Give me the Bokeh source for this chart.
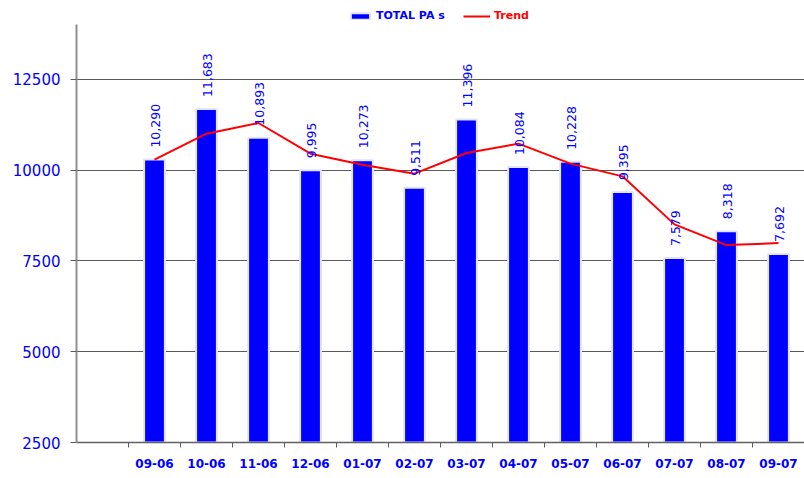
import math
from bokeh.plotting import figure
from bokeh.models import (ColumnDataSource, Range1d, FixedTicker, Legend, LegendItem)
from bokeh.core.properties import value
from bokeh.embed import file_html
from bokeh.resources import INLINE

months = ["09-06", "10-06", "11-06", "12-06", "01-07", "02-07", "03-07",
          "04-07", "05-07", "06-07", "07-07", "08-07", "09-07"]
total_pas = [10290, 11683, 10893, 9995, 10273, 9511, 11396,
             10084, 10228, 9395, 7579, 8318, 7692]
trend = [10290, 11004, 11297, 10453, 10150, 9902, 10471,
         10728, 10178, 9828, 8506, 7936, 7991]
y_ticks = [2500, 5000, 7500, 10000, 12500]
y_axis_top = 14000

xpos = list(range(1, len(months) + 1))
src = ColumnDataSource(dict(
    x=xpos, top=total_pas, trend=trend,
    lbl=[f"{v:,}" for v in total_pas],
))

BLUE = "#0000FF"
RED = "#FF0000"
FONT = "DejaVu Sans"

p = figure(width=804, height=478, output_backend="svg", toolbar_location=None,
           x_range=Range1d(-0.5, 13.5), y_range=Range1d(2500, 14560),
           min_border_left=76, min_border_right=0, min_border_top=4,
           min_border_bottom=36)
p.outline_line_color = None
p.background_fill_color = "white"
p.border_fill_color = "white"

bars = p.vbar(x="x", top="top", bottom=2500, width=0.4, source=src,
              fill_color=BLUE, line_color="#e4e4ff", line_width=2)
line = p.line(x="x", y="trend", source=src, line_color=RED, line_width=2)
p.text(x="x", y="top", text="lbl", source=src, angle=math.pi / 2,
       text_align="left", text_baseline="middle", y_offset=-12, x_offset=1,
       text_color=BLUE, text_font=value(FONT), text_font_size="12.5px")

# axes
p.xgrid.visible = False
p.ygrid.ticker = FixedTicker(ticks=y_ticks)
p.ygrid.grid_line_color = "#5a5a5a"
p.ygrid.grid_line_width = 1

p.yaxis.ticker = FixedTicker(ticks=y_ticks)
p.yaxis.bounds = (2500, y_axis_top)
p.yaxis.axis_line_color = "#909090"
p.yaxis.axis_line_width = 2
p.yaxis.major_tick_line_color = "#5a5a5a"
p.yaxis.major_tick_out = 6
p.yaxis.major_tick_in = 0
p.yaxis.minor_tick_line_color = None
p.yaxis.major_label_standoff = 10
p.yaxis.major_label_text_color = BLUE
p.yaxis.major_label_text_font = FONT
p.yaxis.major_label_text_font_size = "15px"

p.xaxis.ticker = FixedTicker(ticks=xpos, minor_ticks=[i + 0.5 for i in range(0, 13)])
p.xaxis.major_label_overrides = {x: m for x, m in zip(xpos, months)}
p.xaxis.axis_line_color = "#606060"
p.xaxis.axis_line_width = 1.5
p.xaxis.major_tick_line_color = None
p.xaxis.major_tick_out = 5
p.xaxis.major_tick_in = 0
p.xaxis.minor_tick_line_color = "#606060"
p.xaxis.minor_tick_out = 5
p.xaxis.minor_tick_in = 0
p.xaxis.major_label_standoff = 11
p.xaxis.major_label_text_color = BLUE
p.xaxis.major_label_text_font = FONT
p.xaxis.major_label_text_font_style = "bold"
p.xaxis.major_label_text_font_size = "12px"

# legends
def make_legend(item, color, loc, gw, gh):
    return Legend(items=[item], location=loc, orientation="horizontal",
                  padding=0, margin=0, spacing=0, label_standoff=4,
                  glyph_width=gw, glyph_height=gh, label_height=12,
                  label_text_color=color, label_text_font=FONT,
                  label_text_font_style="bold", label_text_font_size="11px",
                  border_line_color=None, background_fill_alpha=0)

lg1 = make_legend(LegendItem(label="TOTAL PA s", renderers=[bars]), BLUE, (272, 420), 24, 8)
lg2 = make_legend(LegendItem(label="Trend", renderers=[line]), RED, (387, 420), 27, 8)
p.add_layout(lg1, "center")
p.add_layout(lg2, "center")

open("out.html", "w").write(file_html(p, INLINE))
